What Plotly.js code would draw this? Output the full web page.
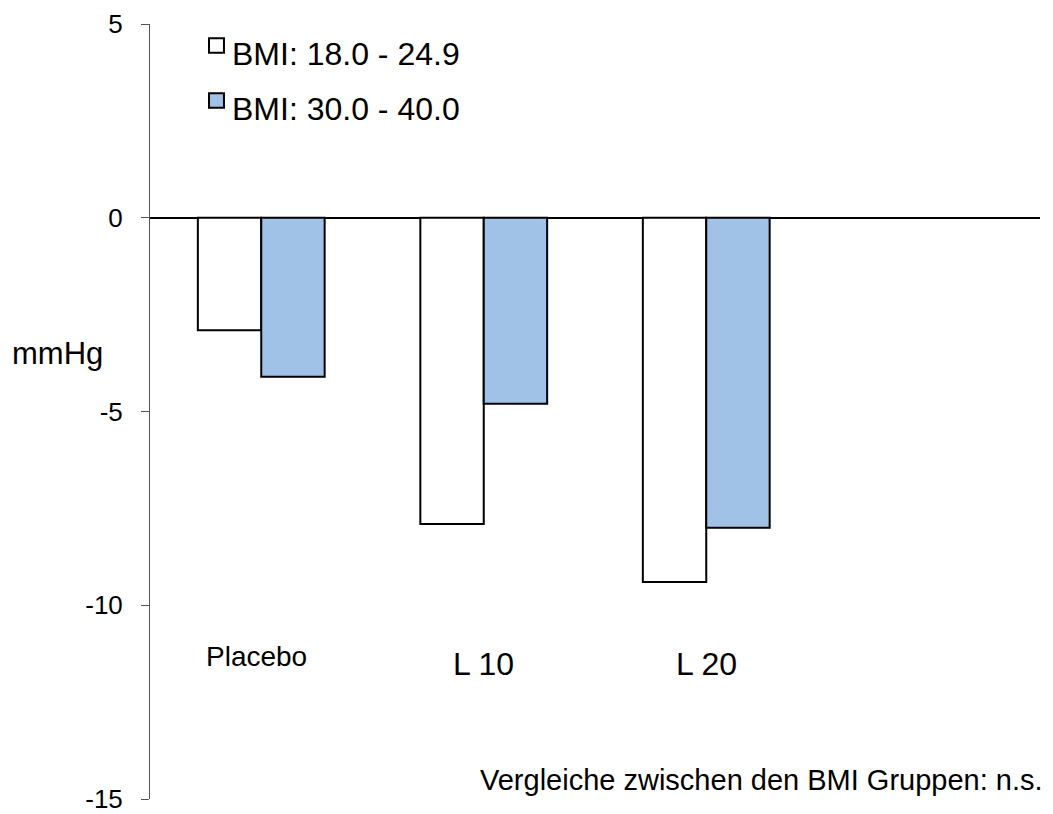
<!DOCTYPE html>
<html><head><meta charset="utf-8">
<script src="https://cdn.plot.ly/plotly-3.0.1.min.js"></script>
<style>html,body{margin:0;padding:0;background:#fff}#chart{width:1053px;height:814px}</style>
</head><body><div id="chart"></div>
<script>
const categories = ['Placebo', 'L 10', 'L 20'];
const seriesNames = ['BMI: 18.0 - 24.9', 'BMI: 30.0 - 40.0'];
const seriesColors = ['#ffffff', '#a0c2e7'];
const normalBMI = [-2.9, -7.9, -9.4];
const obeseBMI = [-4.1, -4.8, -8.0];
const labelY = [-11.32, -11.52, -11.52];
const labelShift = [-5, 0, 0];
const labelSizes = [28, 32, 32];
const legendY = [4.26, 2.84];
const yTicks = [5, 0, -5, -10, -15];
const yTitle = 'mmHg';
const footnote = 'Vergleiche zwischen den BMI Gruppen: n.s.';

const font = 'Liberation Sans, Arial, Helvetica, sans-serif';

const traces = [
  {type:'bar', x:categories, y:normalBMI, name:seriesNames[0], showlegend:false,
   marker:{color:seriesColors[0], line:{color:'#000', width:2}}},
  {type:'bar', x:categories, y:obeseBMI, name:seriesNames[1], showlegend:false,
   marker:{color:seriesColors[1], line:{color:'#000', width:2}}}
];

const annotations = categories.map((c,i)=>({
  x:c, y:labelY[i], xref:'x', yref:'y', text:c, showarrow:false, xshift:labelShift[i],
  font:{family:font, size:labelSizes[i], color:'#000'}
}));
annotations.push({xref:'paper', yref:'y', x:-0.104, y:-3.5, text:yTitle, showarrow:false,
  xanchor:'center', font:{family:font, size:31, color:'#000'}});
annotations.push({xref:'paper', yref:'paper', x:1.006, y:0.0, yanchor:'middle', xanchor:'right', yshift:19,
  text:footnote, showarrow:false, font:{family:font, size:29, color:'#000'}});

// custom legend
const shapes = [];
seriesNames.forEach((n,i)=>{
  shapes.push({type:'rect', xref:'paper', yref:'y', x0:0.0663, x1:0.0831,
    y0:legendY[i]+0.0, y1:legendY[i]+0.37, fillcolor:seriesColors[i], line:{color:'#000', width:2}});
  annotations.push({xref:'paper', yref:'y', x:0.09, y:legendY[i]-0.03, xanchor:'left', yanchor:'middle',
    text:n, showarrow:false, font:{family:font, size:32, color:'#000'}});
});

const layout = {
  width:1053, height:814,
  margin:{l:150, r:13, t:24, b:15},
  paper_bgcolor:'#fff', plot_bgcolor:'#fff',
  barmode:'group', bargap:0.43, bargroupgap:0,
  showlegend:false,
  xaxis:{range:[-0.5,3.5], showticklabels:false, ticks:'', showline:false, showgrid:false, zeroline:false, fixedrange:true},
  yaxis:{range:[-15,5], tickvals:yTicks, ticktext:yTicks.map(String), ticks:'outside', ticklen:8, tickcolor:'#555',
    showline:true, linecolor:'#555', linewidth:1, showgrid:false,
    zeroline:true, zerolinecolor:'#000', zerolinewidth:2.5,
    tickfont:{family:font, size:26, color:'#000'}, ticklabelstandoff:13, ticklabeloverflow:'allow'},
  annotations:annotations,
  shapes:shapes,
  font:{family:font}
};
Plotly.newPlot('chart', traces, layout, {displayModeBar:false, staticPlot:true});
</script></body></html>
